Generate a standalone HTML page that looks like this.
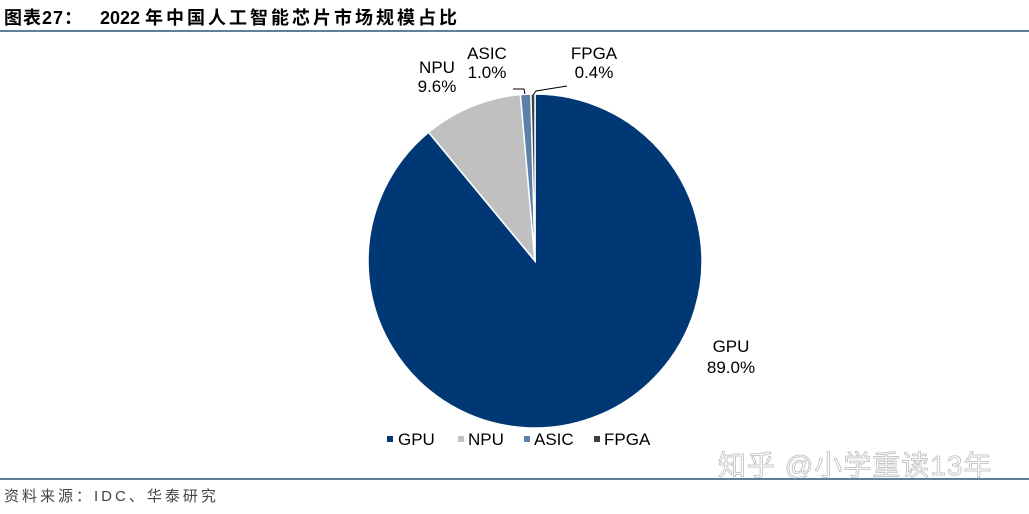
<!DOCTYPE html>
<html><head><meta charset="utf-8"><style>
body{margin:0;width:1029px;height:509px;background:#fff;overflow:hidden;font-family:"Liberation Sans","Noto Sans CJK SC",sans-serif;}
</style></head><body>
<svg width="1029" height="509" xmlns="http://www.w3.org/2000/svg" font-family="Liberation Sans, Noto Sans CJK SC, sans-serif">
<text x="4" y="24" font-size="18" font-weight="bold" fill="#000" letter-spacing="1">图表27：</text>
<text x="100" y="24" font-size="18" font-weight="bold" fill="#000">2022 <tspan letter-spacing="3">年中国人工智能芯片市场规模占比</tspan></text>
<rect x="0" y="30" width="1029" height="2" fill="#5f7f9f"/>
<g stroke="#fff" stroke-width="1.5">
<path d="M535,261 L535,94 A167,167 0 1 1 428.6,132.3 Z" fill="#003876"/>
<path d="M535,261 L428.6,132.3 A167,167 0 0 1 520.4,94.6 Z" fill="#c0c0c0"/>
<path d="M535,261 L520.4,94.6 A167,167 0 0 1 530.9,94.05 Z" fill="#5b80aa"/>
<path d="M535,261 L530.9,94.05 A167,167 0 0 1 535,94 Z" fill="#404040"/>
</g>
<polyline points="513,89 524,89 525,94" fill="none" stroke="#000" stroke-width="1"/>
<polyline points="533,95 536,91 567,86" fill="none" stroke="#000" stroke-width="1"/>
<g font-size="17" fill="#000" text-anchor="middle">
<text x="437" y="73">NPU</text><text x="437" y="92">9.6%</text>
<text x="487" y="59">ASIC</text><text x="487" y="78">1.0%</text>
<text x="594" y="59">FPGA</text><text x="594" y="78">0.4%</text>
<text x="731" y="352">GPU</text><text x="731" y="373">89.0%</text>
</g>
<g font-size="17" fill="#000">
<rect x="387" y="436" width="6" height="6" fill="#003876"/><text x="398" y="445">GPU</text>
<rect x="458" y="436" width="6" height="6" fill="#c0c0c0"/><text x="468" y="445">NPU</text>
<rect x="524" y="436" width="6" height="6" fill="#5b80aa"/><text x="534" y="445">ASIC</text>
<rect x="594" y="436" width="6" height="6" fill="#404040"/><text x="604" y="445">FPGA</text>
</g>
<text x="718" y="475" font-size="28" fill="#fff" stroke="#bbb" stroke-width="0.8" letter-spacing="1">知乎 @小学重读13年</text>
<rect x="0" y="478" width="1029" height="2" fill="#5f7f9f"/>
<text x="4" y="501" font-size="15" fill="#444" letter-spacing="3">资料来源：IDC、华泰研究</text>
</svg>
</body></html>
